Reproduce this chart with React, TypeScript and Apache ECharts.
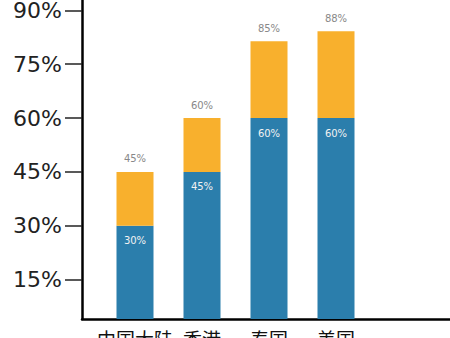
import React, { useEffect, useRef } from "react";
import * as echarts from "echarts";

const categories = ["中国大陆", "香港", "泰国", "美国"];
const baseValues = [30, 45, 60, 60];
const extraValues = [15, 15, 21.4, 24.2];
const topLabels = ["45%", "60%", "85%", "88%"];
const yTicks = [15, 30, 45, 60, 75, 90];

export default function App() {
  const ref = useRef<HTMLDivElement>(null);
  useEffect(() => {
    if (!ref.current) return;
    const chart = echarts.init(ref.current, null, { renderer: "svg" });
    const yMin = 4;
    const yMax = 92.9;
    chart.setOption({
      animation: false,
      backgroundColor: "#ffffff",
      grid: [
        { left: 101.5, right: 80.5, top: 0, bottom: 19, containLabel: false, outerBoundsMode: "none" },
        { left: 82, right: 0, top: 0, bottom: 19, containLabel: false, outerBoundsMode: "none" },
      ],
      xAxis: [
        {
          type: "category",
          gridIndex: 0,
          data: categories,
          axisLine: { show: false },
          axisTick: { show: false },
          axisLabel: {
            interval: 0,
            margin: 10,
            fontSize: 19,
            color: "#111",
            fontFamily: "Noto Sans CJK SC",
          },
        },
        {
          type: "value",
          gridIndex: 1,
          min: 0,
          max: 1,
          axisLine: { show: true, lineStyle: { color: "#000", width: 2.5 } },
          axisTick: { show: false },
          axisLabel: { show: false },
          splitLine: { show: false },
        },
      ],
      yAxis: [
        {
          type: "value",
          gridIndex: 0,
          min: yMin,
          max: yMax,
          show: false,
          splitLine: { show: false },
        },
        {
          type: "value",
          gridIndex: 1,
          min: yMin,
          max: yMax,
          axisLine: { show: true, lineStyle: { color: "#000", width: 2.5 } },
          axisTick: {
            show: true,
            length: 17,
            customValues: yTicks,
            lineStyle: { color: "#222", width: 1.5 },
          },
          axisLabel: {
            customValues: yTicks,
            formatter: (v: number) => `${v}%`,
            margin: 20,
            fontSize: 22,
            color: "#222",
            fontFamily: "DejaVu Sans",
          },
          splitLine: { show: false },
        },
      ],
      series: [
        {
          type: "bar",
          xAxisIndex: 0,
          yAxisIndex: 0,
          stack: "total",
          data: baseValues,
          barWidth: 37,
          clip: true,
          itemStyle: { color: "#2b7eac" },
          label: {
            show: true,
            position: "insideTop",
            distance: 10,
            formatter: (p: any) => `${p.value}%`,
            color: "#f2f2f2",
            fontSize: 10,
            fontFamily: "DejaVu Sans",
          },
        },
        {
          type: "bar",
          xAxisIndex: 0,
          yAxisIndex: 0,
          stack: "total",
          data: extraValues,
          barWidth: 37,
          clip: true,
          itemStyle: { color: "#f8b02d" },
          label: {
            show: true,
            position: "top",
            distance: 8,
            formatter: (p: any) => topLabels[p.dataIndex],
            color: "#888",
            fontSize: 10,
            fontFamily: "DejaVu Sans",
          },
        },
      ],
    });
    return () => chart.dispose();
  }, []);
  return <div ref={ref} style={{ width: 450, height: 338, position: "fixed", left: 0, top: 0 }} />;
}
